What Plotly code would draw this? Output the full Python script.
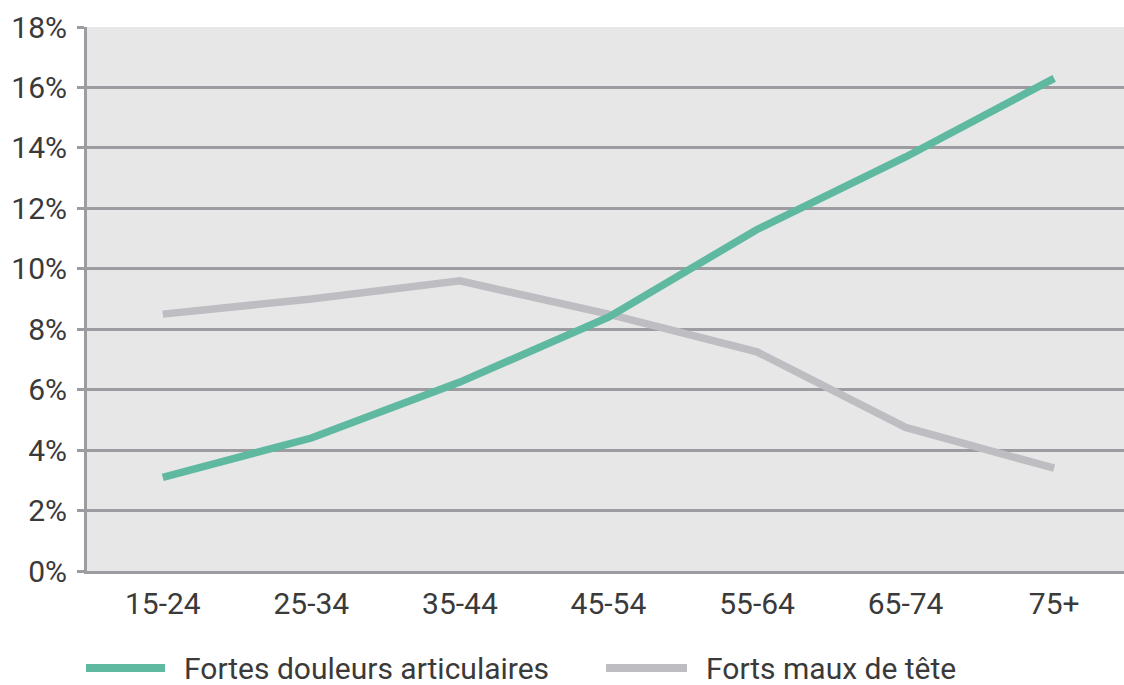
import plotly.graph_objects as go

categories = ["15-24", "25-34", "35-44", "45-54", "55-64", "65-74", "75+"]
douleurs_articulaires = [3.1, 4.4, 6.25, 8.4, 11.3, 13.7, 16.3]
maux_de_tete = [8.5, 9.0, 9.6, 8.5, 7.25, 4.75, 3.4]
y_ticks = [0, 2, 4, 6, 8, 10, 12, 14, 16, 18]
series_names = ["Fortes douleurs articulaires", "Forts maux de tête"]

GREEN = "#5fb9a0"
GRAY = "#bdbdc2"
GRID = "#9c9ca1"
TEXT = "#3a3a3a"
FONT = "Roboto, sans-serif"
FS = 30

W, H = 1124, 685
L, R, T, B = 87, 0, 27, 114
pw, ph = W - L - R, H - T - B

fig = go.Figure()
fig.add_trace(go.Scatter(x=categories, y=maux_de_tete, mode="lines", name=series_names[1],
                         line=dict(color=GRAY, width=7.5), showlegend=False))
fig.add_trace(go.Scatter(x=categories, y=douleurs_articulaires, mode="lines", name=series_names[0],
                         line=dict(color=GREEN, width=7.5), showlegend=False))

def px_x(p):
    return (p - L) / pw

def px_y(p):
    return (H - B - p) / ph

# custom legend
legend_items = [
    (86, 165, 184, GREEN, series_names[0]),
    (606, 687, 706, GRAY, series_names[1]),
]
for x0, x1, xt, col, name in legend_items:
    fig.add_shape(type="line", xref="paper", yref="paper",
                  x0=px_x(x0), x1=px_x(x1), y0=px_y(668), y1=px_y(668),
                  line=dict(color=col, width=8))
    fig.add_annotation(xref="paper", yref="paper", x=px_x(xt), y=px_y(668),
                       text=name, showarrow=False, xanchor="left", yanchor="middle",
                       xshift=-2, font=dict(family=FONT, size=FS, color=TEXT))

fig.update_layout(
    width=W, height=H,
    margin=dict(l=L, r=R, t=T, b=B, autoexpand=False),
    paper_bgcolor="white",
    plot_bgcolor="#e7e7e8",
    font=dict(family=FONT, size=FS, color=TEXT),
    xaxis=dict(type="category", range=[-0.51, 6.47], showgrid=False,
               showline=True, linecolor=GRID, linewidth=3, ticks="",
               ticklabelstandoff=4,
               tickfont=dict(family=FONT, size=FS, color=TEXT)),
    yaxis=dict(range=[0, 18], tickvals=y_ticks, ticktext=[f"{v}%" for v in y_ticks],
               showgrid=True, gridcolor=GRID, gridwidth=2.5,
               showline=True, linecolor=GRID, linewidth=3,
               ticks="outside", ticklen=7, tickwidth=2.5, tickcolor=GRID,
               ticklabelstandoff=4,
               zeroline=False, tickfont=dict(family=FONT, size=FS, color=TEXT)),
)

fig.write_html("out.html")
